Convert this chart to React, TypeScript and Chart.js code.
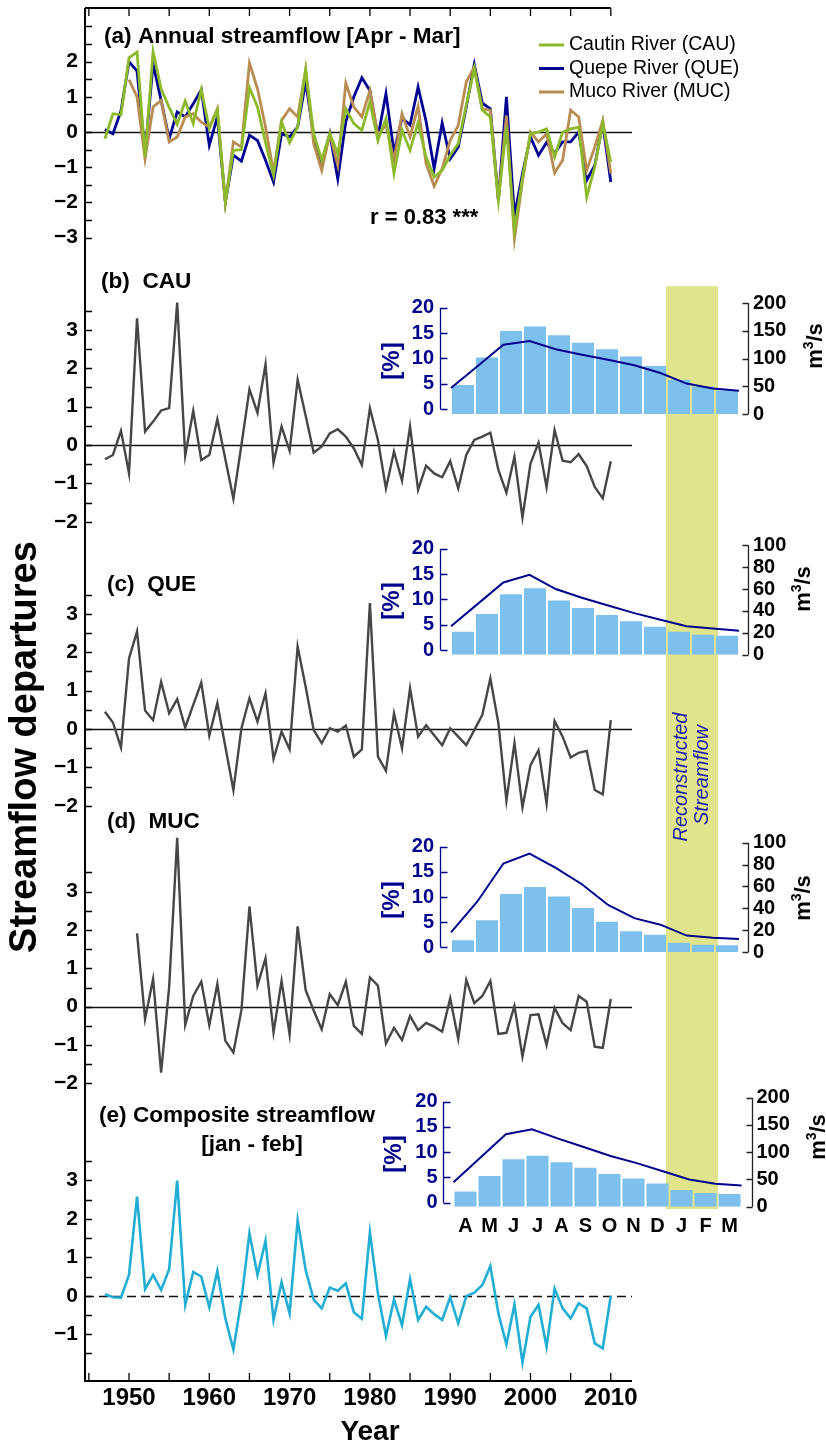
import React, { useEffect, useRef } from 'react';
import { Chart, registerables } from 'chart.js';

Chart.register(...registerables);

const FONT = '"Liberation Sans", Arial, Helvetica, sans-serif';
Chart.defaults.font.family = FONT;

// ---------------- data ----------------
const YEARS = Array.from({ length: 64 }, (_, i) => 1947 + i); // 1947..2010

// (a) annual streamflow departures [Apr - Mar]
const ANNUAL_CAU = [
  -0.19, 0.52, 0.49, 2.11, 2.27, -0.7, 2.29, 1.23, 0.7, 0.22,
  0.88, 0.24, 1.2, 0.1, 0.62, -2.0, -0.52, -0.5, 1.26, 0.71,
  -0.3, -1.23, 0.28, -0.31, 0.14, 1.77, -0.05, -0.8, -0.05, -0.62,
  0.66, 0.24, 0.05, 0.85, -0.24, 0.38, -1.18, 0.05, -0.52, 0.26,
  -0.71, -1.28, -1.09, -0.66, -0.33, 0.76, 1.8, 0.62, 0.43, -1.94,
  0.14, -2.79, -1.3, -0.05, 0.0, 0.09, -0.71, 0.0, 0.09, 0.14,
  -1.85, -0.99, 0.24, -0.85,
];
const ANNUAL_QUE = [
  0.07, -0.05, 0.6, 2.0, 1.73, -0.6, 1.94, 0.9, -0.19, 0.57,
  0.43, 0.8, 1.2, -0.38, 0.43, -2.0, -0.66, -0.83, -0.09, -0.24,
  -0.8, -1.42, -0.05, -0.14, 0.14, 1.42, -0.1, -0.9, -0.05, -1.33,
  0.3, 1.0, 1.54, 1.18, -0.14, 1.09, -0.57, 0.4, 0.2, 1.28,
  0.3, -1.04, 0.26, -0.76, -0.43, 0.71, 1.92, 0.82, 0.66, -1.94,
  1.0, -2.37, -1.18, -0.14, -0.66, -0.3, -0.6, -0.28, -0.28, 0.0,
  -1.37, -0.95, 0.24, -1.42,
];
const ANNUAL_MUC = [
  null, null, null, 1.49, 1.0, -0.76, 0.71, 0.9, -0.28, -0.14,
  0.43, 0.52, 0.28, 0.14, 0.66, -2.0, -0.28, -0.43, 1.96, 1.23,
  0.14, -1.14, 0.33, 0.66, 0.43, 1.77, -0.33, -1.09, -0.05, -0.95,
  1.39, 0.71, 0.43, 1.18, -0.09, 0.2, -0.8, 0.52, -0.14, 0.73,
  -0.9, -1.54, -1.04, -0.24, 0.19, 1.42, 1.85, 0.66, 0.62, -1.94,
  0.47, -3.03, -1.4, 0.0, -0.28, -0.05, -1.16, -0.8, 0.62, 0.43,
  -1.09, -0.43, 0.33, -1.18,
];

// (b)-(e) summer (jan - feb) streamflow departures
const JF_CAU = [
  -0.37, -0.26, 0.37, -0.74, 3.3, 0.35, 0.61, 0.9, 0.96, 3.71,
  -0.28, 0.89, -0.39, -0.26, 0.67, -0.37, -1.4, 0.0, 1.45, 0.84,
  2.1, -0.46, 0.48, -0.15, 1.7, 0.76, -0.2, -0.04, 0.3, 0.41,
  0.22, -0.09, -0.52, 0.96, 0.13, -1.13, -0.17, -0.93, 0.48, -1.17,
  -0.54, -0.74, -0.84, -0.42, -1.13, -0.26, 0.13, 0.22, 0.32, -0.65,
  -1.24, -0.3, -1.89, -0.48, 0.06, -1.1, 0.39, -0.41, -0.45, -0.24,
  -0.55, -1.09, -1.39, -0.42,
];
const JF_QUE = [
  0.45, 0.17, -0.48, 1.84, 2.54, 0.48, 0.23, 1.23, 0.41, 0.78,
  0.04, 0.63, 1.21, -0.17, 0.67, -0.46, -1.59, 0.02, 0.8, 0.19,
  0.93, -0.78, -0.07, -0.53, 2.15, 1.1, -0.03, -0.37, 0.02, -0.07,
  0.09, -0.72, -0.53, 3.28, -0.72, -1.09, 0.41, -0.5, 1.06, -0.2,
  0.1, -0.16, -0.42, 0.02, -0.2, -0.42, -0.03, 0.37, 1.32, 0.15,
  -1.87, -0.37, -2.04, -0.94, -0.55, -1.94, 0.21, -0.2, -0.74, -0.62,
  -0.57, -1.59, -1.7, 0.23,
];
const JF_MUC = [
  null, null, null, null, 1.91, -0.32, 0.72, -1.72, 0.52, 4.4,
  -0.48, 0.28, 0.65, -0.48, 0.59, -0.89, -1.19, -0.09, 2.61, 0.55,
  1.26, -0.67, 0.67, -0.72, 2.09, 0.43, -0.1, -0.59, 0.33, 0.04,
  0.65, -0.5, -0.71, 0.76, 0.55, -0.96, -0.55, -0.87, -0.24, -0.61,
  -0.42, -0.52, -0.65, 0.22, -0.84, 0.7, 0.09, 0.28, 0.67, -0.71,
  -0.68, 0.02, -1.3, -0.22, -0.2, -1.0, -0.03, -0.43, -0.61, 0.28,
  0.13, -1.04, -1.07, 0.2,
];
const JF_COMPOSITE = [
  0.04, -0.04, -0.05, 0.54, 2.58, 0.17, 0.54, 0.15, 0.69, 3.0,
  -0.24, 0.62, 0.5, -0.3, 0.64, -0.59, -1.4, -0.11, 1.63, 0.54,
  1.43, -0.63, 0.35, -0.46, 1.97, 0.67, -0.1, -0.33, 0.21, 0.13,
  0.32, -0.43, -0.6, 1.65, 0.06, -1.05, -0.1, -0.77, 0.43, -0.63,
  -0.29, -0.48, -0.63, -0.04, -0.72, -0.01, 0.08, 0.28, 0.77, -0.46,
  -1.27, -0.23, -1.74, -0.55, -0.24, -1.33, 0.19, -0.33, -0.59, -0.2,
  -0.33, -1.24, -1.37, 0.0,
];

// monthly regime insets (Apr..Mar)
const MONTHS = ['A', 'M', 'J', 'J', 'A', 'S', 'O', 'N', 'D', 'J', 'F', 'M'];
const CAU_PCT = [4.8, 10.2, 15.4, 16.3, 14.6, 13.1, 11.8, 10.4, 8.5, 5.8, 4.5, 3.7];
const CAU_FLOW = [47, 86, 125, 132, 117, 107, 98, 88, 74, 55, 46, 42];
const QUE_PCT = [3.6, 7.1, 11.0, 12.2, 9.8, 8.3, 6.9, 5.7, 4.6, 3.6, 3.0, 2.8];
const QUE_FLOW = [26, 46, 66, 73, 60, 52, 45, 38, 32, 26, 24, 22];
const MUC_PCT = [1.4, 5.4, 10.6, 12.0, 10.1, 7.8, 5.1, 3.2, 2.5, 0.9, 0.5, 0.4];
const MUC_FLOW = [18, 46, 81, 90, 77, 62, 43, 31, 25, 15, 13, 12];
const COMP_PCT = [2.2, 5.3, 8.6, 9.3, 8.0, 6.9, 5.7, 4.8, 3.8, 2.5, 1.9, 1.7];
const COMP_FLOW = [45, 89, 133, 142, 125, 109, 93, 80, 65, 50, 42, 39];

const PCT_TICKS = [0, 5, 10, 15, 20];
const FLOW_TICKS_200 = [0, 50, 100, 150, 200];
const FLOW_TICKS_100 = [0, 20, 40, 60, 80, 100];
const X_LABEL_YEARS = [1950, 1960, 1970, 1980, 1990, 2000, 2010];
const X_TICK_YEARS = [1945, 1950, 1955, 1960, 1965, 1970, 1975, 1980, 1985, 1990, 1995, 2000, 2005, 2010];

// ---------------- styles / layout ----------------
const W = 826;
const H = 1446;
const C_CAU = '#8dba2b';
const C_QUE = '#000092';
const C_MUC = '#b98c52';
const C_GRAY = '#464646';
const C_COMP = '#22aed4';
const C_NAVY = '#00008c';
const C_BAR = '#7ec0ed';
const C_BAND = '#e0e48c';

const X_MIN = 1944.52;
const X_MAX = 2012.64;

const range = (lo: number, hi: number, step: number) => {
  const out: number[] = [];
  for (let v = lo; v <= hi + 1e-9; v += step) out.push(Math.round(v * 100) / 100);
  return out;
};

const PANELS = [
  { id: 'yA', min: -3.778, max: 3.523, weight: 257, ticks: range(-3, 3, 0.5), labels: range(-3, 2, 1), dashed: false },
  { id: 'yB', min: -2.604, max: 4.6875, weight: 280, ticks: range(-2, 3.5, 0.5), labels: range(-2, 3, 1), dashed: false },
  { id: 'yC', min: -2.63, max: 4.792, weight: 285, ticks: range(-2, 3.5, 0.5), labels: range(-2, 3, 1), dashed: false },
  { id: 'yD', min: -2.43, max: 4.602, weight: 270, ticks: range(-2, 3.5, 0.5), labels: range(-2, 3, 1), dashed: false },
  { id: 'yE', min: -2.221, max: 5.096, weight: 281, ticks: range(-1.5, 3.5, 0.5), labels: range(-1, 3, 1), dashed: true },
];

const fmt = (v: number) => (v < 0 ? '\u2212' + Math.abs(v) : String(v));

const series = (arr: (number | null)[]) => YEARS.map((yr, i) => ({ x: yr, y: arr[i] }));

const noPad = (s: any) => {
  s.paddingTop = 0;
  s.paddingBottom = 0;
  s.paddingLeft = 0;
  s.paddingRight = 0;
};

function lineDs(label: string, arr: (number | null)[], axis: string, color: string, width: number) {
  return {
    label,
    data: series(arr),
    xAxisID: 'x',
    yAxisID: axis,
    borderColor: color,
    backgroundColor: color,
    borderWidth: width,
    pointRadius: 0,
    tension: 0,
    fill: false,
    spanGaps: false,
  };
}

const LEGEND = [
  { label: 'Cautin River (CAU)', color: C_CAU },
  { label: 'Quepe River (QUE)', color: C_QUE },
  { label: 'Muco River (MUC)', color: C_MUC },
];

function text(ctx: CanvasRenderingContext2D, s: string, x: number, y: number, font: string, align: CanvasTextAlign = 'left', color = '#000') {
  ctx.font = font;
  ctx.fillStyle = color;
  ctx.textAlign = align;
  ctx.textBaseline = 'middle';
  ctx.fillText(s, x, y);
}

const mainPlugin = {
  id: 'mainDecor',
  beforeDraw(chart: any) {
    const ctx = chart.ctx as CanvasRenderingContext2D;
    ctx.save();
    ctx.fillStyle = C_BAND;
    ctx.fillRect(666, 286, 52, 923);
    ctx.fillStyle = '#1e1ea8';
    ctx.font = `italic 20px ${FONT}`;
    ctx.textAlign = 'center';
    ctx.textBaseline = 'alphabetic';
    ctx.save();
    ctx.translate(687, 777);
    ctx.rotate(-Math.PI / 2);
    ctx.fillText('Reconstructed', 0, 0);
    ctx.restore();
    ctx.save();
    ctx.translate(708, 775);
    ctx.rotate(-Math.PI / 2);
    ctx.fillText('Streamflow', 0, 0);
    ctx.restore();
    ctx.restore();
  },
  beforeDatasetsDraw(chart: any) {
    const ctx = chart.ctx as CanvasRenderingContext2D;
    const { left, right } = chart.chartArea;
    ctx.save();
    PANELS.forEach((p) => {
      const y = Math.round(chart.scales[p.id].getPixelForValue(0)) + 0.5;
      ctx.strokeStyle = '#111';
      ctx.lineWidth = 1.3;
      ctx.setLineDash(p.dashed ? [9, 5] : []);
      ctx.beginPath();
      ctx.moveTo(left, y);
      ctx.lineTo(right, y);
      ctx.stroke();
    });
    ctx.restore();
  },
  afterDraw(chart: any) {
    const ctx = chart.ctx as CanvasRenderingContext2D;
    const { left, right, top, bottom } = chart.chartArea;
    const xs = chart.scales.x;
    ctx.save();
    ctx.strokeStyle = '#000';
    ctx.lineWidth = 2;
    ctx.beginPath();
    ctx.moveTo(left, top);
    ctx.lineTo(left, bottom);
    ctx.lineTo(right, bottom);
    ctx.moveTo(left, top);
    ctx.lineTo(xs.getPixelForValue(2010), top);
    ctx.stroke();
    ctx.lineWidth = 1.3;
    ctx.beginPath();
    X_TICK_YEARS.forEach((yr) => {
      const x = xs.getPixelForValue(yr);
      ctx.moveTo(x, bottom);
      ctx.lineTo(x, bottom - 8);
      ctx.moveTo(x, top);
      ctx.lineTo(x, top + 8);
    });
    PANELS.forEach((p) => {
      const sc = chart.scales[p.id];
      p.ticks.forEach((v) => {
        const y = Math.round(sc.getPixelForValue(v)) + 0.5;
        ctx.moveTo(left, y);
        ctx.lineTo(left + 7, y);
      });
    });
    ctx.stroke();

    const bold22 = `bold 22.6px ${FONT}`;
    text(ctx, '(a) Annual streamflow [Apr - Mar]', 104, 37, bold22);
    text(ctx, '(b)  CAU', 101, 282, bold22);
    text(ctx, '(c)  QUE', 107, 585, bold22);
    text(ctx, '(d)  MUC', 107, 822, bold22);
    text(ctx, '(e) Composite streamflow', 99, 1116, bold22);
    text(ctx, '[jan - feb]', 252, 1145, bold22, 'center');
    text(ctx, 'r = 0.83 ***', 370, 218, `bold 22px ${FONT}`);

    LEGEND.forEach((item, i) => {
      const y = 45 + i * 23.5;
      ctx.strokeStyle = item.color;
      ctx.lineWidth = 3;
      ctx.beginPath();
      ctx.moveTo(539, y);
      ctx.lineTo(564, y);
      ctx.stroke();
      text(ctx, item.label, 569, y, `19.5px ${FONT}`);
    });

    text(ctx, 'Year', 370, 1432, `bold 28px ${FONT}`, 'center');
    ctx.save();
    ctx.translate(26, 747);
    ctx.rotate(-Math.PI / 2);
    text(ctx, 'Streamflow departures', 0, 0, `bold 38px ${FONT}`, 'center');
    ctx.restore();
    ctx.restore();
  },
};

function makeMainConfig(): any {
  const scales: any = {
    x: {
      type: 'linear',
      position: 'bottom',
      min: X_MIN,
      max: X_MAX,
      grid: { display: false, drawTicks: false },
      border: { display: false },
      afterBuildTicks: (s: any) => {
        s.ticks = X_LABEL_YEARS.map((v) => ({ value: v }));
      },
      afterFit: (s: any) => {
        s.height = 65;
        noPad(s);
      },
      ticks: {
        autoSkip: false,
        maxRotation: 0,
        padding: 3,
        color: '#000',
        font: { size: 24, weight: 'bold' },
        callback: (v: number) => String(v),
      },
    },
  };
  PANELS.forEach((p, i) => {
    scales[p.id] = {
      type: 'linear',
      position: 'left',
      stack: 'departures',
      stackWeight: p.weight,
      weight: PANELS.length - i,
      min: p.min,
      max: p.max,
      grid: { display: false, drawTicks: false },
      border: { display: false },
      afterBuildTicks: (s: any) => {
        s.ticks = p.ticks.map((v) => ({ value: v }));
      },
      afterFit: (s: any) => {
        s.width = 60;
        noPad(s);
      },
      ticks: {
        autoSkip: false,
        padding: 7,
        color: '#000',
        font: { size: 21, weight: 'bold' },
        callback: (v: number) => (p.labels.includes(v) ? fmt(v) : ''),
      },
    };
  });
  return {
    type: 'line',
    data: {
      datasets: [
        lineDs('Cautin River (CAU)', ANNUAL_CAU, 'yA', C_CAU, 2.8),
        lineDs('Muco River (MUC)', ANNUAL_MUC, 'yA', C_MUC, 2.8),
        lineDs('Quepe River (QUE)', ANNUAL_QUE, 'yA', C_QUE, 2.8),
        lineDs('CAU', JF_CAU, 'yB', C_GRAY, 2.4),
        lineDs('QUE', JF_QUE, 'yC', C_GRAY, 2.4),
        lineDs('MUC', JF_MUC, 'yD', C_GRAY, 2.4),
        lineDs('Composite streamflow', JF_COMPOSITE, 'yE', C_COMP, 2.6),
      ],
    },
    options: {
      responsive: false,
      animation: false,
      devicePixelRatio: 1,
      events: [],
      layout: { autoPadding: false, padding: { left: 25, right: 194, top: 8, bottom: 0 } },
      plugins: { legend: { display: false }, tooltip: { enabled: false }, title: { display: false } },
      scales,
    },
    plugins: [mainPlugin],
  };
}

type Inset = {
  key: string;
  pct: number[];
  flow: number[];
  flowMax: number;
  flowTicks: number[];
  pctMin: number;
  pctMax: number;
  top: number;
  height: number;
  padTop: number;
  padBottom: number;
  leftW: number;
  rightW: number;
  gapL: number;
  gapR: number;
  padL: number;
  padR: number;
  months: boolean;
  unitX: number;
  unitY: number;
  pctX: number;
  pctY: number;
};

const INSET_LEFT = 380;
const INSET_W = 446;

const INSETS: Inset[] = [
  { key: 'b', pct: CAU_PCT, flow: CAU_FLOW, flowMax: 200, flowTicks: FLOW_TICKS_200, pctMin: -0.93, pctMax: 20.87, top: 280, height: 150, padTop: 23.3, padBottom: 16, leftW: 71, rightW: 87, gapL: 11, gapR: 9, padL: 17, padR: 14, months: false, unitX: 822, unitY: 346, pctX: 392, pctY: 361 },
  { key: 'c', pct: QUE_PCT, flow: QUE_FLOW, flowMax: 100, flowTicks: FLOW_TICKS_100, pctMin: -0.93, pctMax: 20.7, top: 530, height: 140, padTop: 15.3, padBottom: 15.3, leftW: 71, rightW: 87, gapL: 11, gapR: 9, padL: 17, padR: 14, months: false, unitX: 810, unitY: 589, pctX: 392, pctY: 601 },
  { key: 'd', pct: MUC_PCT, flow: MUC_FLOW, flowMax: 100, flowTicks: FLOW_TICKS_100, pctMin: -0.93, pctMax: 20.8, top: 825, height: 140, padTop: 17.7, padBottom: 13, leftW: 71, rightW: 87, gapL: 11, gapR: 9, padL: 17, padR: 14, months: false, unitX: 810, unitY: 898, pctX: 392, pctY: 900 },
  { key: 'e', pct: COMP_PCT, flow: COMP_FLOW, flowMax: 200, flowTicks: FLOW_TICKS_200, pctMin: -0.8, pctMax: 20.8, top: 1080, height: 160, padTop: 17.7, padBottom: 3.3, leftW: 73.5, rightW: 84.5, gapL: 10.5, gapR: 10, padL: 16, padR: 15, months: true, unitX: 825, unitY: 1137, pctX: 394, pctY: 1154 },
];

function makeInsetConfig(p: Inset): any {
  const plugin = {
    id: 'insetAxes' + p.key,
    afterDraw(chart: any) {
      const ctx = chart.ctx as CanvasRenderingContext2D;
      const { left, right } = chart.chartArea;
      const yL = chart.scales.yL;
      const yR = chart.scales.yR;
      ctx.save();
      const ax = Math.round(left - p.gapL) + 0.5;
      ctx.strokeStyle = C_NAVY;
      ctx.lineWidth = 1.3;
      ctx.beginPath();
      ctx.moveTo(ax, yL.getPixelForValue(0));
      ctx.lineTo(ax, yL.getPixelForValue(20));
      PCT_TICKS.forEach((v) => {
        const y = Math.round(yL.getPixelForValue(v)) + 0.5;
        ctx.moveTo(ax, y);
        ctx.lineTo(ax + 7, y);
      });
      ctx.stroke();
      const bx = Math.round(right + p.gapR) + 0.5;
      ctx.strokeStyle = '#222';
      ctx.beginPath();
      ctx.moveTo(bx, yR.getPixelForValue(0));
      ctx.lineTo(bx, yR.getPixelForValue(p.flowMax));
      p.flowTicks.forEach((v) => {
        const y = Math.round(yR.getPixelForValue(v)) + 0.5;
        ctx.moveTo(bx, y);
        ctx.lineTo(bx - 6, y);
      });
      ctx.stroke();

      // [%]
      ctx.save();
      ctx.translate(p.pctX - INSET_LEFT, p.pctY - p.top);
      ctx.rotate(-Math.PI / 2);
      text(ctx, '[%]', 0, 0, `bold 24px ${FONT}`, 'center', C_NAVY);
      ctx.restore();

      // m3/s
      ctx.save();
      ctx.translate(p.unitX - INSET_LEFT, p.unitY - p.top);
      ctx.rotate(-Math.PI / 2);
      ctx.fillStyle = '#000';
      ctx.textBaseline = 'alphabetic';
      ctx.textAlign = 'left';
      const big = `bold 22px ${FONT}`;
      const small = `bold 14px ${FONT}`;
      ctx.font = big;
      const wm = ctx.measureText('m').width;
      const wrest = ctx.measureText('/s').width;
      ctx.font = small;
      const w3 = ctx.measureText('3').width;
      let x0 = -(wm + w3 + wrest) / 2;
      ctx.font = big;
      ctx.fillText('m', x0, 0);
      x0 += wm;
      ctx.font = small;
      ctx.fillText('3', x0, -9);
      x0 += w3;
      ctx.font = big;
      ctx.fillText('/s', x0, 0);
      ctx.restore();
      ctx.restore();
    },
  };
  return {
    type: 'bar',
    data: {
      labels: MONTHS,
      datasets: [
        {
          type: 'line',
          label: 'm3/s',
          data: p.flow.map((v, i) => ({ x: i + 1, y: v })),
          xAxisID: 'xl',
          yAxisID: 'yR',
          borderColor: C_NAVY,
          borderWidth: 2,
          pointRadius: 0,
          tension: 0,
          order: 0,
          clip: false,
        },
        {
          type: 'bar',
          label: '%',
          data: p.pct,
          xAxisID: 'x',
          yAxisID: 'yL',
          backgroundColor: C_BAR,
          base: p.pctMin,
          grouped: false,
          barPercentage: 0.92,
          categoryPercentage: 1,
          order: 1,
        },
      ],
    },
    options: {
      responsive: false,
      animation: false,
      devicePixelRatio: 1,
      events: [],
      layout: { autoPadding: false, padding: { left: 0, right: 0, top: p.padTop, bottom: p.padBottom } },
      plugins: { legend: { display: false }, tooltip: { enabled: false } },
      scales: {
        x: {
          type: 'category',
          display: p.months,
          offset: true,
          grid: { display: false, drawTicks: false },
          border: { display: false },
          afterFit: (s: any) => {
            s.height = p.months ? 30 : 0;
            noPad(s);
          },
          ticks: { autoSkip: false, maxRotation: 0, padding: 8, color: '#000', font: { size: 20, weight: 'bold' } },
        },
        xl: { type: 'linear', display: false, min: 1, max: 12, offset: false },
        yL: {
          type: 'linear',
          position: 'left',
          min: p.pctMin,
          max: p.pctMax,
          grid: { display: false, drawTicks: false },
          border: { display: false },
          afterBuildTicks: (s: any) => {
            s.ticks = PCT_TICKS.map((v) => ({ value: v }));
          },
          afterFit: (s: any) => {
            s.width = p.leftW;
            noPad(s);
          },
          ticks: { autoSkip: false, padding: p.padL, color: C_NAVY, font: { size: 20, weight: 'bold' }, callback: (v: number) => String(v) },
        },
        yR: {
          type: 'linear',
          position: 'right',
          min: 0,
          max: p.flowMax,
          grid: { display: false, drawTicks: false },
          border: { display: false },
          afterBuildTicks: (s: any) => {
            s.ticks = p.flowTicks.map((v) => ({ value: v }));
          },
          afterFit: (s: any) => {
            s.width = p.rightW;
            noPad(s);
          },
          ticks: { autoSkip: false, padding: p.padR, color: '#000', font: { size: 20, weight: 'bold' }, callback: (v: number) => String(v) },
        },
      },
    },
    plugins: [plugin],
  };
}

function MainChart() {
  const ref = useRef<HTMLCanvasElement>(null);
  useEffect(() => {
    const chart = new Chart(ref.current as HTMLCanvasElement, makeMainConfig());
    return () => chart.destroy();
  }, []);
  return <canvas ref={ref} width={W} height={H} style={{ position: 'absolute', left: 0, top: 0, width: W, height: H }} />;
}

function InsetChart({ p }: { p: Inset }) {
  const ref = useRef<HTMLCanvasElement>(null);
  useEffect(() => {
    const chart = new Chart(ref.current as HTMLCanvasElement, makeInsetConfig(p));
    return () => chart.destroy();
  }, [p]);
  return (
    <canvas
      ref={ref}
      width={INSET_W}
      height={p.height}
      style={{ position: 'absolute', left: INSET_LEFT, top: p.top, width: INSET_W, height: p.height }}
    />
  );
}

export default function App() {
  return (
    <div style={{ position: 'absolute', left: 0, top: 0, width: W, height: H, background: '#fff', overflow: 'hidden' }}>
      <MainChart />
      {INSETS.map((p) => (
        <InsetChart key={p.key} p={p} />
      ))}
    </div>
  );
}
